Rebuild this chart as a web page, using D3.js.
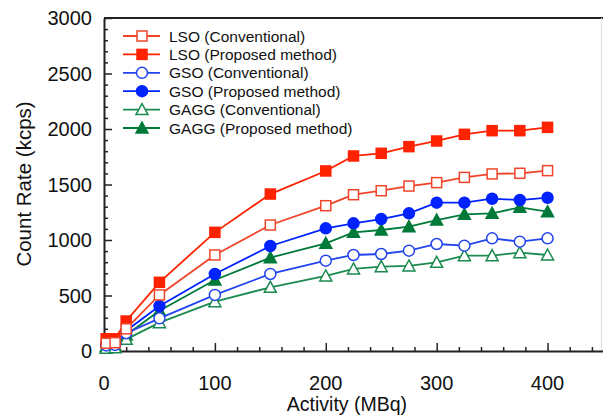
<!DOCTYPE html>
<html>
<head>
<meta charset="utf-8">
<style>
  body { margin: 0; background: #fff; }
  text { font-family: "Liberation Sans", Arial, sans-serif; fill: #111; }
</style>
</head>
<body>
<svg width="603" height="416"></svg>
<script src="https://d3js.org/d3.v7.min.js"></script>
<script>

// activity (MBq)
var activity = [2, 10, 20, 50, 100, 150, 200, 225, 250, 275, 300, 325, 350, 375, 400];

// count rate (kcps) per series
var lsoConv  = [70, 75, 200, 505, 865, 1135, 1309, 1408, 1444, 1486, 1517, 1564, 1595, 1601, 1625];
var lsoProp  = [110, 110, 270, 619, 1069, 1414, 1622, 1757, 1781, 1841, 1892, 1952, 1985, 1985, 2015];
var gsoConv  = [50, 55, 160, 294, 505, 694, 814, 865, 874, 904, 964, 949, 1015, 985, 1015];
var gsoProp  = [60, 65, 183, 405, 694, 946, 1105, 1150, 1189, 1240, 1336, 1336, 1372, 1360, 1381];
var gaggConv = [25, 30, 105, 255, 444, 574, 676, 739, 760, 766, 799, 859, 859, 886, 865];
var gaggProp = [40, 45, 144, 363, 640, 841, 970, 1069, 1090, 1120, 1180, 1231, 1240, 1294, 1255];

var seriesNames = ["LSO (Conventional)", "LSO (Proposed method)", "GSO (Conventional)",
                   "GSO (Proposed method)", "GAGG (Conventional)", "GAGG (Proposed method)"];

var xTicks = [0, 100, 200, 300, 400];
var yTicks = [0, 500, 1000, 1500, 2000, 2500, 3000];

var series = [
  {name: seriesNames[0], values: lsoConv,  shape: "square",   filled: false, color: "#f0442a"},
  {name: seriesNames[1], values: lsoProp,  shape: "square",   filled: true,  color: "#ff2200"},
  {name: seriesNames[2], values: gsoConv,  shape: "circle",   filled: false, color: "#2244ee"},
  {name: seriesNames[3], values: gsoProp,  shape: "circle",   filled: true,  color: "#0022ff"},
  {name: seriesNames[4], values: gaggConv, shape: "triangle", filled: false, color: "#1a8a4e"},
  {name: seriesNames[5], values: gaggProp, shape: "triangle", filled: true,  color: "#007a38"}
];

var svg = d3.select("svg");
var pLeft = 104, pRight = 603, pTop = 18, pBottom = 351;

var x = d3.scaleLinear().domain([0, 450]).range([pLeft, pRight]);
var y = d3.scaleLinear().domain([0, 3000]).range([pBottom, pTop]);

// frame (top + faint right edge)
svg.append("path")
    .attr("d", "M" + pLeft + "," + pTop + "H" + pRight)
    .attr("fill", "none").attr("stroke", "#222").attr("stroke-width", 2);
svg.append("path")
    .attr("d", "M" + (pRight - 1.5) + "," + pTop + "V" + pBottom)
    .attr("fill", "none").attr("stroke", "#ddd").attr("stroke-width", 1);

// bottom axis: inward ticks
var gx = svg.append("g").attr("transform", "translate(0," + pBottom + ")");
gx.call(d3.axisBottom(x).tickValues(d3.range(0, 451, 20)).tickSize(-4).tickSizeOuter(0).tickFormat(""));
gx.selectAll(".tick").filter(d => xTicks.includes(d)).select("line").attr("y2", -8);
gx.selectAll("line").attr("stroke", "#222").attr("stroke-width", 1.5);
gx.select(".domain").attr("stroke", "#222").attr("stroke-width", 2);
svg.append("g").selectAll("text").data(xTicks).join("text")
    .attr("x", d => x(d)).attr("y", 390)
    .attr("text-anchor", "middle").attr("font-size", 20)
    .text(d => d);

// left axis: inward ticks
var gy = svg.append("g").attr("transform", "translate(" + pLeft + ",0)");
gy.call(d3.axisLeft(y).tickValues(d3.range(0, 3001, 100)).tickSize(-4).tickSizeOuter(0).tickFormat(""));
gy.selectAll(".tick").filter(d => yTicks.includes(d)).select("line").attr("x2", 8);
gy.selectAll("line").attr("stroke", "#222").attr("stroke-width", 1.5);
gy.select(".domain").attr("stroke", "#222").attr("stroke-width", 2);
svg.append("g").selectAll("text").data(yTicks).join("text")
    .attr("x", 92).attr("y", d => y(d) + 7)
    .attr("text-anchor", "end").attr("font-size", 20)
    .text(d => d);

// axis titles
svg.append("text").attr("x", 347).attr("y", 411)
    .attr("text-anchor", "middle").attr("font-size", 19.5).text("Activity (MBq)");
svg.append("text").attr("transform", "translate(31,184) rotate(-90)")
    .attr("text-anchor", "middle").attr("font-size", 20.5).text("Count Rate (kcps)");

function drawMarker(sel, s) {
  var fill = s.filled ? s.color : "#fff";
  if (s.shape === "square") {
    sel.append("rect").attr("x", -5).attr("y", -5).attr("width", 10).attr("height", 10)
      .attr("fill", fill).attr("stroke", s.color).attr("stroke-width", 1.5);
  } else if (s.shape === "circle") {
    sel.append("circle").attr("r", 5.5)
      .attr("fill", fill).attr("stroke", s.color).attr("stroke-width", 1.5);
  } else {
    sel.append("path").attr("d", "M0,-6L6,5H-6Z")
      .attr("fill", fill).attr("stroke", s.color).attr("stroke-width", 1.5);
  }
}

var line = d3.line().x((d, i) => x(activity[i])).y(d => y(d));

// draw bottom series first so upper ones sit on top
var order = [5, 4, 3, 2, 1, 0];
order.forEach(function(k) {
  var s = series[k];
  var g = svg.append("g");
  g.append("path").attr("d", line(s.values))
    .attr("fill", "none").attr("stroke", s.color).attr("stroke-width", 1.8);
  g.selectAll("g").data(s.values).join("g")
    .attr("transform", (d, i) => "translate(" + x(activity[i]) + "," + y(d) + ")")
    .each(function() { drawMarker(d3.select(this), s); });
});

// legend
var legend = svg.append("g");
series.forEach(function(s, i) {
  var ly = 36 + i * 18.4;
  var row = legend.append("g").attr("transform", "translate(0," + ly + ")");
  row.append("line").attr("x1", 123).attr("x2", 160)
    .attr("stroke", s.color).attr("stroke-width", 1.8);
  drawMarker(row.append("g").attr("transform", "translate(142,0)"), s);
  row.append("text").attr("x", 169).attr("y", 5.5).attr("font-size", 15.5).text(s.name);
});

</script>
</body>
</html>
